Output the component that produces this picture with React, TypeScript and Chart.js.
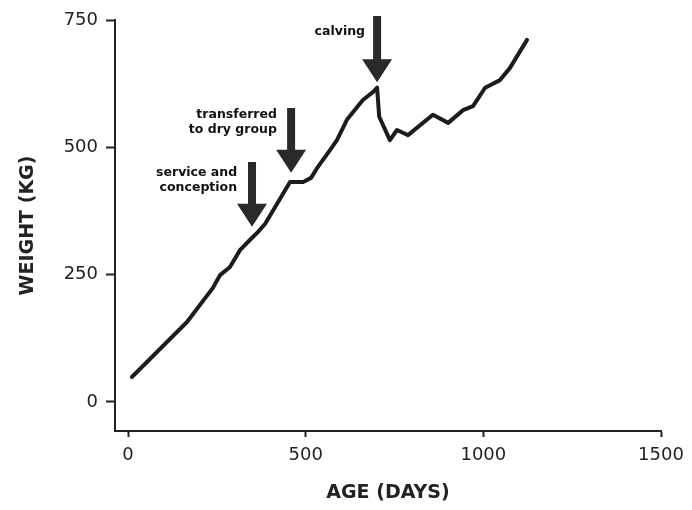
import React, { useEffect, useRef } from "react";
import { Chart, registerables } from "chart.js";

Chart.register(...registerables);

// Age (days) and body weight (kg)
const ageDays = [11, 166, 239, 250, 259, 287, 315, 343, 366, 386, 456, 493, 515, 532, 569, 588, 616, 645, 661, 690, 701, 707, 737, 757, 788, 858, 901, 943, 971, 1005, 1047, 1075, 1123];
const weightKg = [49, 157, 224, 238, 249, 265, 298, 318, 334, 350, 432, 432, 440, 459, 495, 514, 554, 579, 593, 609, 617, 560, 514, 534, 524, 564, 548, 573, 581, 617, 632, 656, 711];

const xTicks = [0, 500, 1000, 1500];
const yTicks = [0, 250, 500, 750];

// Event annotations (arrows)
const eventLabels = [["service and", "conception"], ["transferred", "to dry group"], ["calving"]];
const eventDays = [349, 459, 701];
const eventTipKg = [344, 450, 628];
const eventTopKg = [471, 577, 758];
const labelRightDays = [307, 419, 667];
const labelBaselineKg = [444, 558, 721];

const INK = "#222222";

const arrowPlugin = {
  id: "eventArrows",
  afterDatasetsDraw(chart: any) {
    const { ctx, scales } = chart;
    const x = scales.x;
    const y = scales.y;
    ctx.save();
    eventDays.forEach((d, i) => {
      const ax = x.getPixelForValue(d);
      const tipY = y.getPixelForValue(eventTipKg[i]);
      const topY = y.getPixelForValue(eventTopKg[i]);
      const headLen = 23;
      const headHalf = 15;
      const shaftHalf = 4;
      ctx.fillStyle = "#2a2a2a";
      ctx.beginPath();
      ctx.moveTo(ax - shaftHalf, topY);
      ctx.lineTo(ax + shaftHalf, topY);
      ctx.lineTo(ax + shaftHalf, tipY - headLen);
      ctx.lineTo(ax + headHalf, tipY - headLen);
      ctx.lineTo(ax, tipY);
      ctx.lineTo(ax - headHalf, tipY - headLen);
      ctx.lineTo(ax - shaftHalf, tipY - headLen);
      ctx.closePath();
      ctx.fill();

      ctx.fillStyle = "#111111";
      ctx.font = 'bold 12.5px "DejaVu Sans"';
      ctx.textAlign = "right";
      ctx.textBaseline = "alphabetic";
      const tx = x.getPixelForValue(labelRightDays[i]);
      const ty = y.getPixelForValue(labelBaselineKg[i]);
      eventLabels[i].forEach((line, j) => {
        ctx.fillText(line, tx, ty + j * 15);
      });
    });
    ctx.restore();
  },
};

export default function App() {
  const canvasRef = useRef<HTMLCanvasElement | null>(null);

  useEffect(() => {
    document.body.style.margin = "0";
    const canvas = canvasRef.current;
    if (!canvas) return;
    const points = ageDays.map((d, i) => ({ x: d, y: weightKg[i] }));
    const chart = new Chart(canvas, {
      type: "line",
      data: {
        datasets: [
          {
            data: points,
            borderColor: "#1c1c1c",
            borderWidth: 4,
            pointRadius: 0,
            tension: 0,
            borderJoinStyle: "round",
            borderCapStyle: "round",
            fill: false,
          },
        ],
      },
      options: {
        responsive: false,
        animation: false,
        layout: { padding: { top: 20, right: 31, bottom: 0, left: 0 } },
        plugins: {
          legend: { display: false },
          tooltip: { enabled: false },
        },
        scales: {
          x: {
            type: "linear",
            min: -36.6,
            max: 1500,
            afterBuildTicks: (scale: any) => {
              scale.ticks = xTicks.map((v) => ({ value: v }));
            },
            afterFit: (scale: any) => {
              scale.height = 79;
            },
            grid: {
              display: true,
              drawOnChartArea: false,
              drawTicks: true,
              tickLength: 6,
              tickWidth: 2,
              tickColor: INK,
            },
            border: { display: true, color: INK, width: 2 },
            ticks: {
              color: INK,
              padding: 8,
              maxRotation: 0,
              autoSkip: false,
              callback: (v: any) => String(v),
              font: { family: '"DejaVu Sans"', size: 18 },
            },
            title: {
              display: true,
              text: "AGE (DAYS)",
              color: INK,
              padding: { top: 0, bottom: 6 },
              font: { family: '"DejaVu Sans"', size: 19, weight: "bold" },
            },
          },
          y: {
            type: "linear",
            min: -57,
            max: 750,
            afterBuildTicks: (scale: any) => {
              scale.ticks = yTicks.map((v) => ({ value: v }));
            },
            afterFit: (scale: any) => {
              scale.width = 115;
            },
            grid: {
              display: true,
              drawOnChartArea: false,
              drawTicks: true,
              tickLength: 9,
              tickWidth: 2,
              tickColor: INK,
            },
            border: { display: true, color: INK, width: 2 },
            ticks: {
              color: INK,
              padding: 8,
              autoSkip: false,
              callback: (v: any) => String(v),
              font: { family: '"DejaVu Sans"', size: 18 },
            },
            title: {
              display: true,
              text: "WEIGHT (KG)",
              color: INK,
              padding: { top: 17, bottom: 0 },
              font: { family: '"DejaVu Sans"', size: 19, weight: "bold" },
            },
          },
        },
      },
      plugins: [arrowPlugin],
    } as any);
    return () => chart.destroy();
  }, []);

  return (
    <div style={{ width: 692, height: 510, background: "#ffffff" }}>
      <canvas ref={canvasRef} width={692} height={510} style={{ display: "block" }} />
    </div>
  );
}
